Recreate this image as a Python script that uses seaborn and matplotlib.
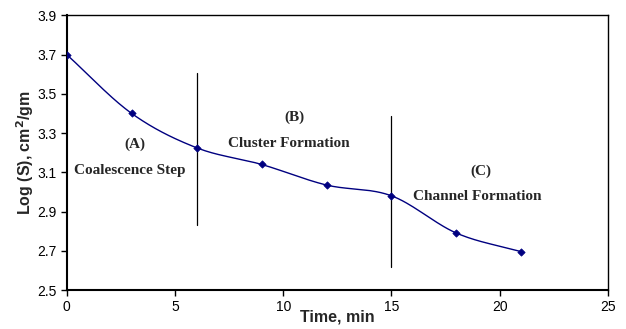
import numpy as np
import pandas as pd
import matplotlib
matplotlib.use("Agg")
import matplotlib.pyplot as plt
import seaborn as sns

time_min = [0, 3, 6, 9, 12, 15, 18, 21]
log_s = [3.70, 3.40, 3.225, 3.14, 3.035, 2.98, 2.79, 2.695]

x_ticks = [0, 5, 10, 15, 20, 25]
y_ticks = [2.5, 2.7, 2.9, 3.1, 3.3, 3.5, 3.7, 3.9]

divider_x = [6, 15]
divider_ymin = [2.83, 2.615]
divider_ymax = [3.605, 3.385]

labels = ["(A)", "Coalescence Step", "(B)", "Cluster Formation", "(C)", "Channel Formation"]
label_x = [3.15, 2.9, 10.5, 10.25, 19.15, 18.95]
label_y = [3.243, 3.107, 3.379, 3.247, 3.107, 2.979]


def catmull_rom(xs, ys, n=30):
    xs = np.asarray(xs, float); ys = np.asarray(ys, float)
    px = np.concatenate([[2 * xs[0] - xs[1]], xs, [2 * xs[-1] - xs[-2]]])
    py = np.concatenate([[2 * ys[0] - ys[1]], ys, [2 * ys[-1] - ys[-2]]])
    outx, outy = [], []
    for i in range(1, len(px) - 2):
        t = np.linspace(0, 1, n, endpoint=(i == len(px) - 3))
        for P, out in ((px, outx), (py, outy)):
            p0, p1, p2, p3 = P[i - 1], P[i], P[i + 1], P[i + 2]
            out.extend(0.5 * ((2 * p1) + (-p0 + p2) * t + (2 * p0 - 5 * p1 + 4 * p2 - p3) * t ** 2
                              + (-p0 + 3 * p1 - 3 * p2 + p3) * t ** 3))
    return np.array(outx), np.array(outy)


sns.set_theme(style="white")
plt.rcParams['font.family'] = ['Liberation Sans', 'DejaVu Sans']

fig = plt.figure(figsize=(6.26, 3.29), dpi=100)
ax = fig.add_axes([0.1065, 0.1185, 0.8648, 0.835])

sx, sy = catmull_rom(time_min, log_s)
smooth = pd.DataFrame({"t": sx, "s": sy})
pts = pd.DataFrame({"t": time_min, "s": log_s})
color = "#000080"
sns.lineplot(data=smooth, x="t", y="s", ax=ax, color=color, linewidth=1.0, sort=False)
sns.scatterplot(data=pts, x="t", y="s", ax=ax, color=color, marker="D", s=14,
                edgecolor=color, linewidth=0.5, zorder=5)

for xv, y0, y1 in zip(divider_x, divider_ymin, divider_ymax):
    ax.plot([xv, xv], [y0, y1], color="black", linewidth=0.9)

for txt, xv, yv in zip(labels, label_x, label_y):
    ax.text(xv, yv, txt, ha="center", va="center", fontsize=11, fontweight="bold",
            family=["Liberation Serif", "DejaVu Serif"])

ax.set_xlim(0, 25)
ax.set_ylim(2.5, 3.9)
ax.set_xticks(x_ticks)
ax.set_yticks(y_ticks)
ax.set_xticklabels([str(v) for v in x_ticks])
ax.set_yticklabels([f"{v:.1f}" for v in y_ticks])
ax.tick_params(axis="both", direction="out", length=4, width=1, labelsize=10, colors="black", pad=3)
ax.tick_params(axis="both", which="both", bottom=True, left=True)
for sp in ax.spines.values():
    sp.set_visible(True)
    sp.set_color("black")
    sp.set_linewidth(1.0)
ax.spines["left"].set_linewidth(1.5)
ax.spines["bottom"].set_linewidth(1.5)

ax.set_xlabel("Time, min", fontsize=11.5, fontweight="bold", labelpad=-3)
ax.set_ylabel("Log (S), cm$^\\mathbf{2}$/gm", fontsize=11.5, fontweight="bold", labelpad=1)

fig.savefig("out.png", dpi=100)
